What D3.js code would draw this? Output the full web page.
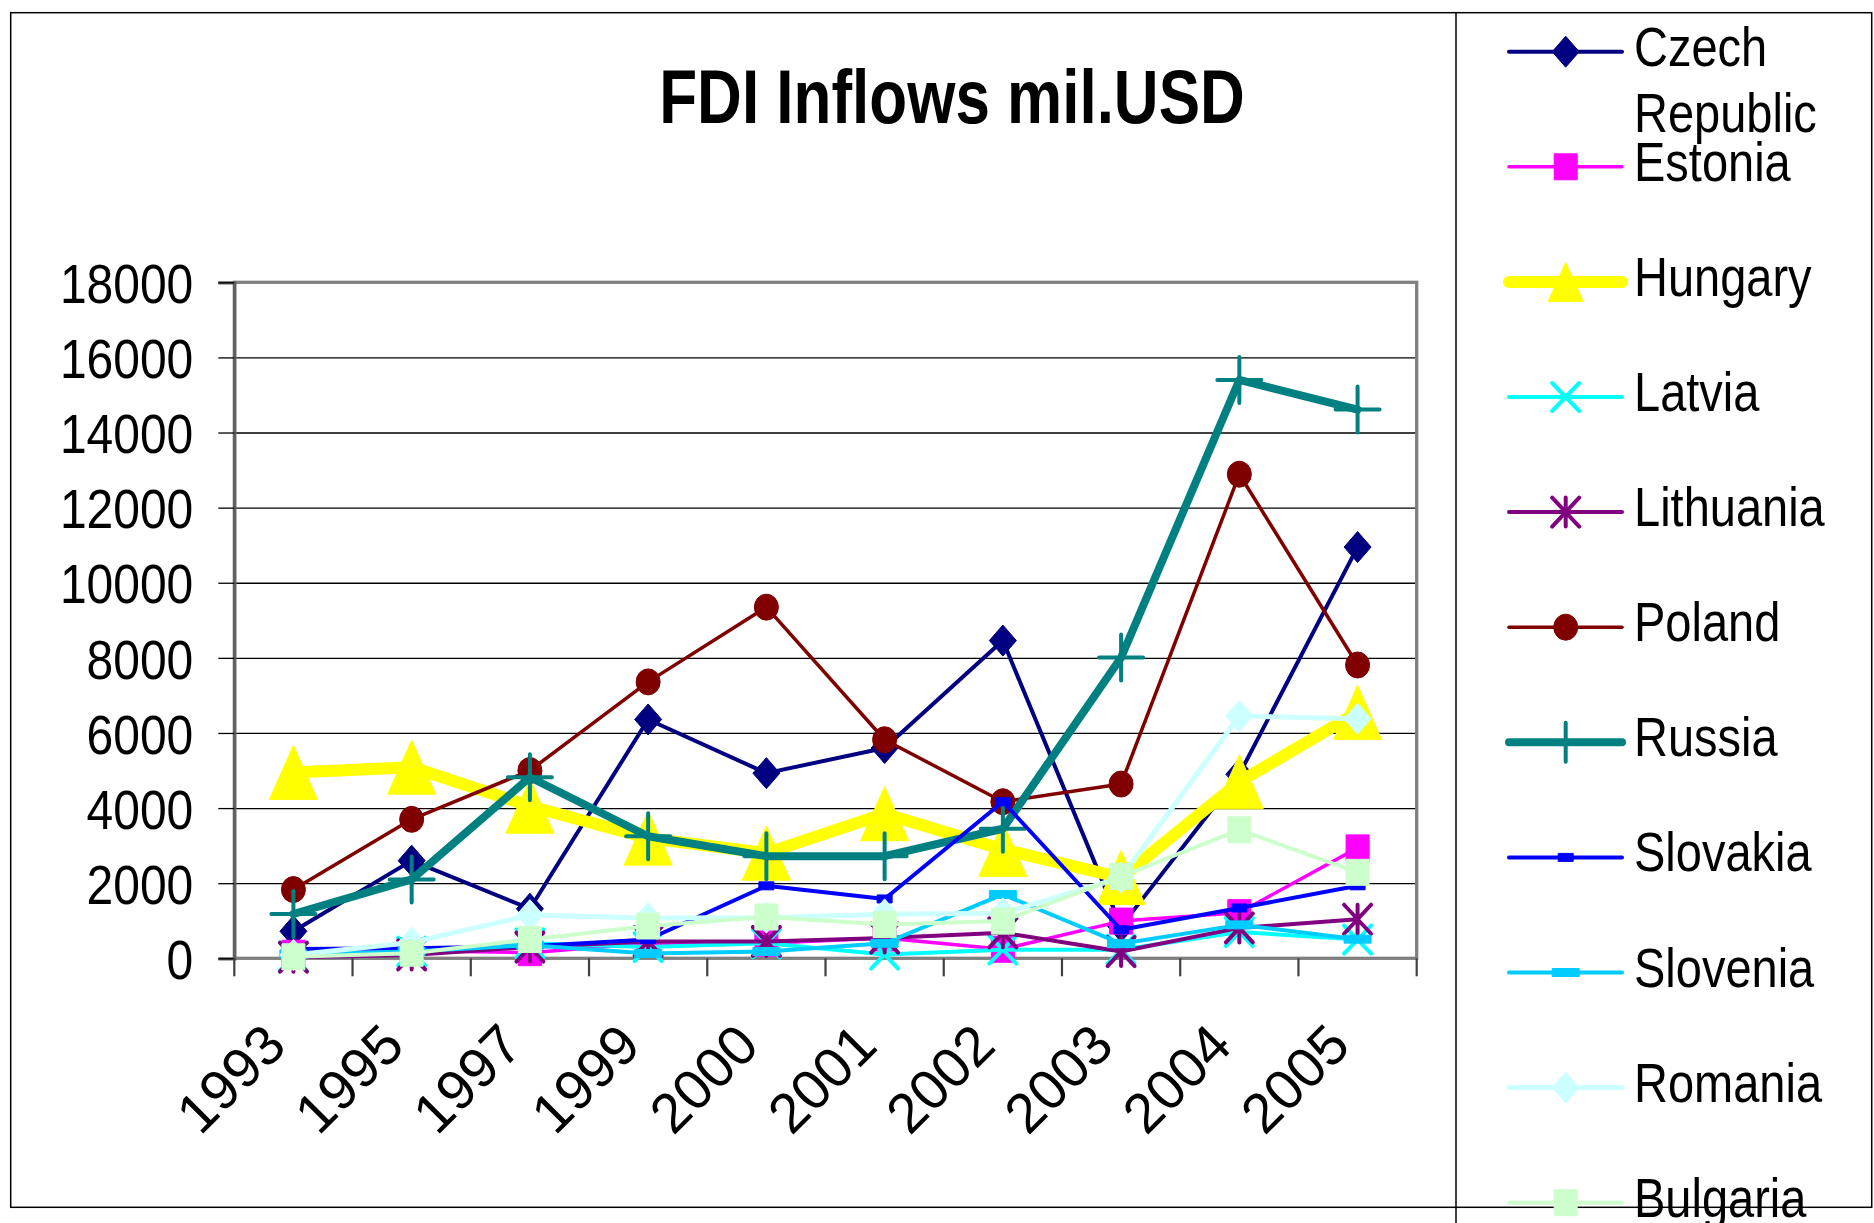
<!DOCTYPE html>
<html>
<head>
<meta charset="utf-8">
<script src="https://cdn.jsdelivr.net/npm/d3@7/dist/d3.min.js"></script>
<style>
  html, body { margin: 0; padding: 0; background: #fff; }
  svg { display: block; }
  text { font-family: "Liberation Sans", Arial, sans-serif; fill: #000; }
</style>
</head>
<body>
<svg id="chart" width="1874" height="1223"></svg>
<script>
// data (mil. USD)
var years = ['1993', '1995', '1997', '1999', '2000', '2001', '2002', '2003', '2004', '2005'];
var yTicks = [0, 2000, 4000, 6000, 8000, 10000, 12000, 14000, 16000, 18000];
var countries = ['Czech Republic', 'Estonia', 'Hungary', 'Latvia', 'Lithuania', 'Poland',
                 'Russia', 'Slovakia', 'Slovenia', 'Romania', 'Bulgaria'];

var czech     = [720, 2600, 1320, 6360, 4930, 5600, 8460, 850, 4900, 10950];
var estonia   = [135, 200, 150, 400, 400, 540, 240, 990, 1215, 2940];
var hungary   = [4950, 5090, 4050, 3200, 2800, 3850, 2900, 2150, 4700, 6550];
var latvia    = [45, 180, 400, 300, 400, 100, 230, 230, 700, 500];
var lithuania = [30, 90, 300, 450, 450, 540, 680, 180, 810, 1040];
var poland    = [1830, 3700, 5000, 7360, 9350, 5820, 4170, 4640, 12890, 7810];
var russia    = [1180, 2100, 4820, 3250, 2720, 2720, 3450, 8010, 15400, 14610];
var slovakia  = [250, 270, 320, 500, 1930, 1580, 4170, 760, 1340, 1930];
var slovenia  = [115, 180, 350, 130, 180, 400, 1700, 390, 890, 510];
var romania   = [90, 420, 1150, 1070, 1080, 1170, 1200, 2150, 6450, 6380];
var bulgaria  = [40, 135, 500, 860, 1100, 900, 990, 2180, 3420, 2290];

var seriesValues = [czech, estonia, hungary, latvia, lithuania, poland,
                    russia, slovakia, slovenia, romania, bulgaria];

// look of each series, same order as countries
var styles = [
  { color: '#000080', lw: 4,   marker: 'diamond',  w: 27, h: 31 },
  { color: '#FF00FF', lw: 3.5, marker: 'square',   w: 23, h: 26 },
  { color: '#FFFF00', lw: 12,  marker: 'triangle', w: 48, h: 54, lw2: 35, lh2: 39 },
  { color: '#00FFFF', lw: 4,   marker: 'x',        w: 27, h: 28 },
  { color: '#800080', lw: 4,   marker: 'asterisk', w: 27, h: 29 },
  { color: '#800000', lw: 3.5, marker: 'circle',   w: 24, h: 26 },
  { color: '#008080', lw: 8,   marker: 'plus',     w: 44, h: 46, lw2: 30, lh2: 39 },
  { color: '#0000FF', lw: 4,   marker: 'dash',     w: 15, h: 8 },
  { color: '#00CCFF', lw: 4,   marker: 'dash',     w: 27, h: 8 },
  { color: '#CCFFFF', lw: 5,   marker: 'diamond',  w: 27, h: 31 },
  { color: '#CCFFCC', lw: 4,   marker: 'square',   w: 23, h: 26 }
];

var svg = d3.select('#chart');
var plotLeft = 234.3, plotRight = 1416.7, plotTop = 282.3, plotBottom = 958.3;
var stretch = 1.17; // the text in the picture is a bit taller than wide

var x = d3.scaleBand().domain(years).range([plotLeft, plotRight]);
var y = d3.scaleLinear().domain([0, 18000]).range([plotBottom, plotTop]);
var cx = function(d) { return x(d) + x.bandwidth() / 2; };

function markerPath(type, w, h) {
  var a = w / 2, b = h / 2;
  switch (type) {
    case 'diamond': return 'M0,' + (-b) + 'L' + a + ',0L0,' + b + 'L' + (-a) + ',0Z';
    case 'square':
    case 'dash': return 'M' + (-a) + ',' + (-b) + 'H' + a + 'V' + b + 'H' + (-a) + 'Z';
    case 'triangle': return 'M0,' + (-b) + 'L' + a + ',' + b + 'L' + (-a) + ',' + b + 'Z';
    case 'circle': return 'M' + (-a) + ',0a' + a + ',' + b + ' 0 1,0 ' + w + ',0a' + a + ',' + b + ' 0 1,0 ' + (-w) + ',0Z';
    case 'x': return 'M' + (-a) + ',' + (-b) + 'L' + a + ',' + b + 'M' + a + ',' + (-b) + 'L' + (-a) + ',' + b;
    case 'asterisk': return 'M' + (-a) + ',' + (-b) + 'L' + a + ',' + b + 'M' + a + ',' + (-b) + 'L' + (-a) + ',' + b + 'M0,' + (-b) + 'V' + b;
    case 'plus': return 'M0,' + (-b) + 'V' + b + 'M' + (-a) + ',0H' + a;
  }
}
var stroked = { x: true, asterisk: true, plus: true };

function drawMarker(g, st, w, h) {
  var p = g.append('path').attr('d', markerPath(st.marker, w, h));
  if (stroked[st.marker]) {
    p.attr('fill', 'none').attr('stroke', st.color).attr('stroke-width', 4).attr('stroke-linecap', 'round');
  } else {
    p.attr('fill', st.color).attr('stroke', st.color).attr('stroke-width', 1).attr('stroke-linejoin', 'round');
  }
}

// outer chart frame and legend box
svg.append('rect').attr('x', 10.7).attr('y', 12.7).attr('width', 1861).attr('height', 1194.6)
  .attr('fill', 'none').attr('stroke', '#000').attr('stroke-width', 1.5);
svg.append('line').attr('x1', 1456).attr('x2', 1456).attr('y1', 12.7).attr('y2', 1223)
  .attr('stroke', '#000').attr('stroke-width', 1.5);

// title
svg.append('text')
  .attr('transform', 'translate(952,123) scale(1,1.24)')
  .attr('text-anchor', 'middle')
  .style('font-size', '62px').style('font-weight', 'bold')
  .text('FDI Inflows mil.USD');

// gridlines
svg.append('g')
  .attr('transform', 'translate(' + plotLeft + ',0)')
  .call(d3.axisLeft(y).tickValues(yTicks.slice(1, -1)).tickSize(-(plotRight - plotLeft)).tickFormat(''))
  .call(function(g) {
    g.select('.domain').remove();
    g.selectAll('line').attr('stroke', '#000').attr('stroke-width', 1.3);
  });

// plot frame
svg.append('rect').attr('x', plotLeft).attr('y', plotTop)
  .attr('width', plotRight - plotLeft).attr('height', plotBottom - plotTop)
  .attr('fill', 'none').attr('stroke', '#808080').attr('stroke-width', 3.3);

// y axis
svg.append('g')
  .attr('transform', 'translate(' + plotLeft + ',0)')
  .call(d3.axisLeft(y).tickValues(yTicks).tickSize(16).tickPadding(25).tickFormat(d3.format('d')))
  .call(function(g) {
    g.select('.domain').attr('stroke', '#606060').attr('stroke-width', 3.3);
    g.selectAll('line').attr('stroke', '#000').attr('stroke-width', 1.3);
    g.selectAll('text')
      .attr('dy', '0.36em')
      .attr('transform', 'scale(1,' + stretch + ')')
      .style('font-size', '48px').style('fill', '#000');
  });

// x axis: ticks between the categories
var bounds = years.map(function(d) { return x(d); }).concat([plotRight]);
svg.append('g').selectAll('line').data(bounds).join('line')
  .attr('x1', function(d) { return d; }).attr('x2', function(d) { return d; })
  .attr('y1', plotBottom).attr('y2', plotBottom + 18)
  .attr('stroke', '#404040').attr('stroke-width', 2.2);

svg.append('g')
  .attr('transform', 'translate(0,' + plotBottom + ')')
  .call(d3.axisBottom(x).tickSize(0))
  .call(function(g) {
    g.select('.domain').remove();
    g.selectAll('text')
      .attr('x', 0).attr('y', 0).attr('dy', 0)
      .attr('text-anchor', 'end')
      .attr('transform', 'translate(-5,90) rotate(-45)')
      .style('font-size', '56px').style('fill', '#000');
  });

// series: line then markers, in legend order
var line = d3.line().x(function(d) { return cx(d.year); }).y(function(d) { return y(d.value); });
seriesValues.forEach(function(vals, i) {
  var st = styles[i];
  var pts = vals.map(function(v, j) { return { year: years[j], value: v }; });
  var g = svg.append('g').attr('class', 'series');
  g.append('path').datum(pts).attr('d', line)
    .attr('fill', 'none').attr('stroke', st.color).attr('stroke-width', st.lw)
    .attr('stroke-linejoin', 'round').attr('stroke-linecap', 'round');
  pts.forEach(function(p) {
    var m = g.append('g').attr('transform', 'translate(' + cx(p.year) + ',' + y(p.value) + ')');
    drawMarker(m, st, st.w, st.h);
  });
});

// legend
var legY = function(i) { return 51.7 + i * 115.1; };
countries.forEach(function(name, i) {
  var st = styles[i];
  var g = svg.append('g').attr('class', 'legend-item');
  g.append('line').attr('x1', 1509).attr('x2', 1622).attr('y1', legY(i)).attr('y2', legY(i))
    .attr('stroke', st.color).attr('stroke-width', Math.min(st.lw, 12)).attr('stroke-linecap', 'round');
  var m = g.append('g').attr('transform', 'translate(1565.7,' + legY(i) + ')');
  drawMarker(m, st, st.lw2 || st.w, st.lh2 || st.h);
  var t = g.append('text')
    .attr('transform', 'translate(1634,' + (legY(i) + 14) + ') scale(1,' + stretch + ')')
    .style('font-size', '47px');
  var words = name === 'Czech Republic' ? ['Czech', 'Republic'] : [name];
  words.forEach(function(w, k) {
    t.append('tspan').attr('x', 0).attr('y', k * 56.4).text(w);
  });
});
</script>
</body>
</html>
